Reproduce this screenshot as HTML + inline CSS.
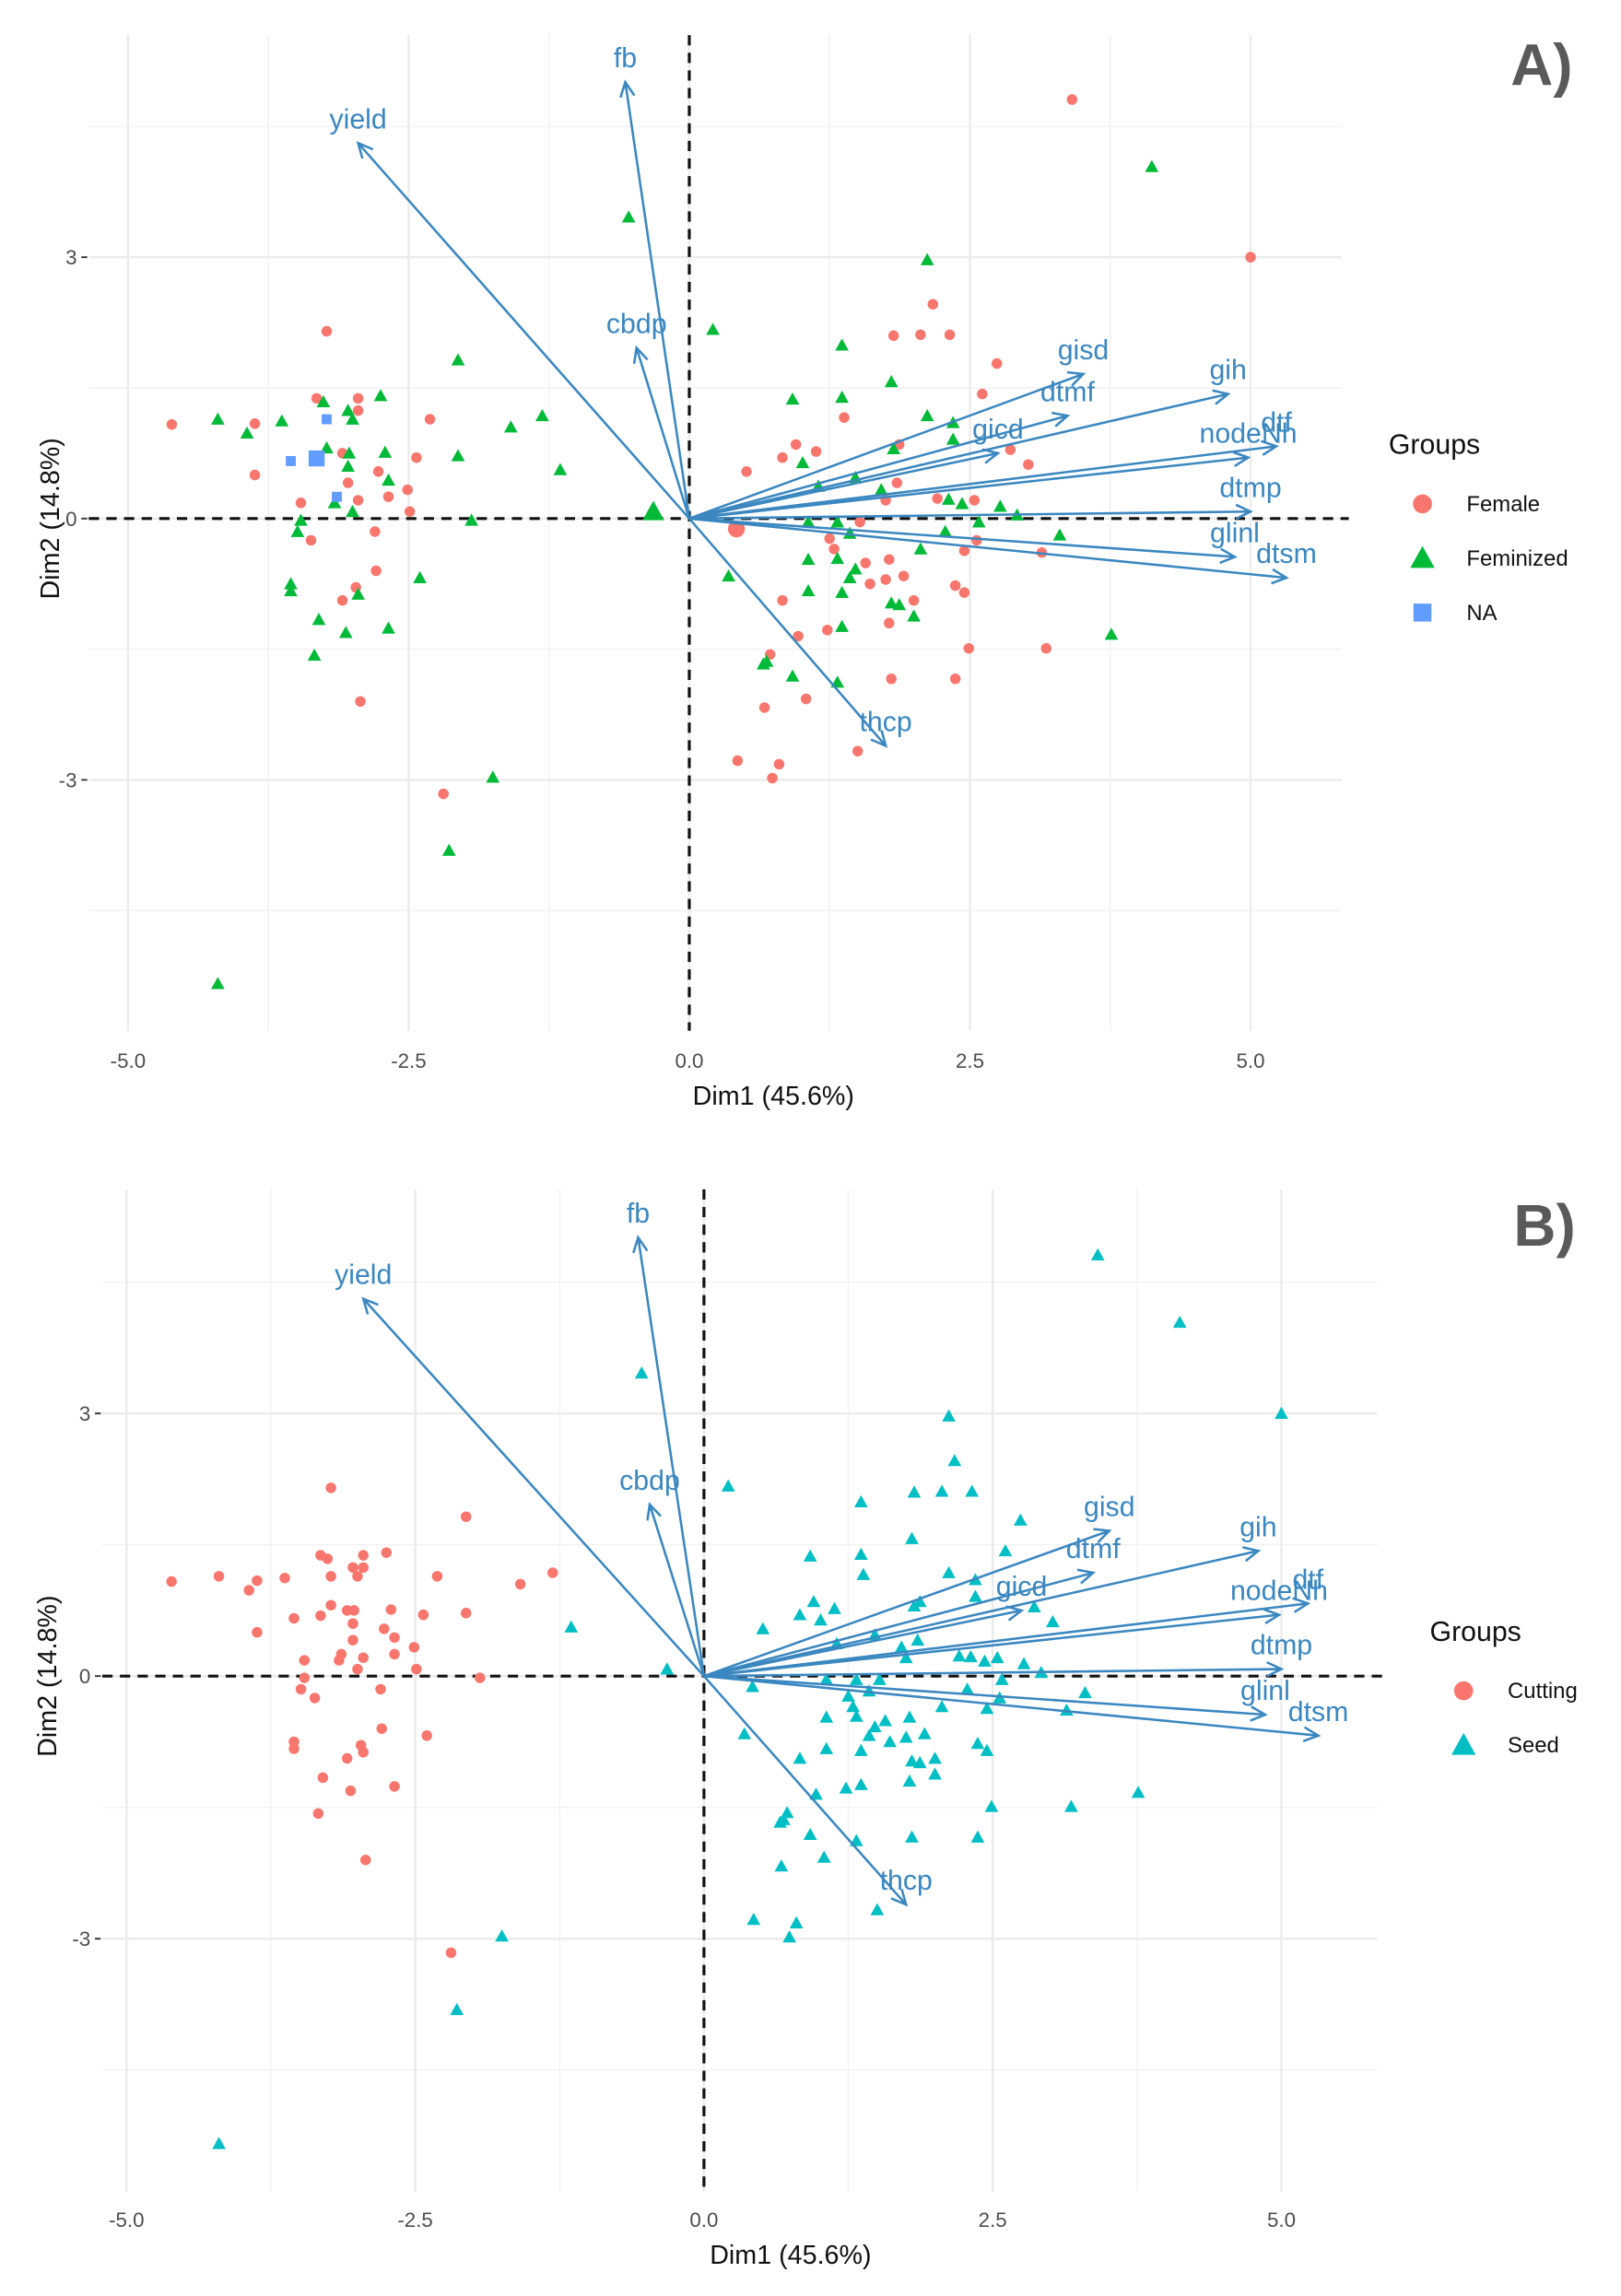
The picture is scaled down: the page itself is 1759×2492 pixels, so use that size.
<!DOCTYPE html>
<html><head><meta charset="utf-8"><style>
html,body{margin:0;padding:0;background:#fff}
svg{display:block;font-family:"Liberation Sans",Arial,sans-serif}
</style></head><body>
<svg id="chart" width="1759" height="2492" viewBox="0 0 1103 1563" xmlns="http://www.w3.org/2000/svg"></svg>
<script>
// ---- data ----
const pointX = [-4.61,-3.87,-3.87,-3.23,-3.32,-2.95,-2.95,-2.31,-3.09,-3.04,-2.77,-2.68,-2.95,-3.46,-3.37,-2.51,-2.49,-2.43,-2.80,-2.79,-2.97,-3.09,-2.93,-2.19,
3.41,5.0,2.17,1.82,2.06,2.32,2.74,2.61,1.38,0.95,1.13,0.83,0.51,1.87,2.86,3.02,0.42,2.21,2.54,1.85,1.75,1.52,1.25,1.29,1.57,1.78,1.91,1.61,1.75,2.00,1.78,2.45,2.56,3.14,2.37,2.45,0.83,1.23,0.97,0.72,2.49,3.18,1.80,2.37,1.04,0.67,1.50,0.43,0.80,0.74,
-4.20,-3.94,-3.63,-3.26,-3.00,-3.04,-2.75,-2.71,-3.03,-3.04,-2.68,-3.23,-3.16,-3.00,-3.46,-3.49,-3.55,-3.55,-2.95,-3.30,-3.06,-2.68,-3.34,-2.40,-2.06,-2.06,-1.59,-1.31,-1.15,-1.94,-0.54,-0.32,0.21,0.92,1.01,1.36,1.36,1.80,2.12,2.12,2.35,2.35,1.82,1.48,1.15,1.71,2.31,2.43,2.77,2.92,1.06,1.32,2.58,2.28,2.06,1.43,3.30,1.06,1.32,1.48,1.43,1.36,1.06,1.80,1.87,2.00,1.36,0.35,0.69,0.66,0.92,1.32,3.76,4.12,-1.75,-2.14,-4.20,
-3.23,-3.55,-3.32,-3.14];
const pointY = [1.08,1.09,0.50,2.15,1.38,1.38,1.24,1.14,0.75,0.41,0.54,0.25,0.21,0.18,-0.25,0.33,0.08,0.70,-0.15,-0.60,-0.79,-0.94,-2.10,-3.16,
4.81,3.0,2.46,2.10,2.11,2.11,1.78,1.43,1.16,0.85,0.77,0.70,0.54,0.85,0.79,0.62,-0.12,0.23,0.21,0.41,0.21,-0.04,-0.23,-0.35,-0.51,-0.47,-0.66,-0.75,-0.70,-0.94,-1.20,-0.37,-0.25,-0.39,-0.77,-0.85,-0.94,-1.28,-1.35,-1.56,-1.49,-1.49,-1.84,-1.84,-2.07,-2.17,-2.67,-2.78,-2.82,-2.98,
1.14,0.98,1.12,1.34,1.14,1.24,1.41,0.76,0.75,0.60,0.44,0.81,0.18,0.08,-0.02,-0.15,-0.75,-0.83,-0.87,-1.16,-1.31,-1.26,-1.57,-0.68,1.82,0.72,1.05,1.18,0.56,-0.02,3.46,0.08,2.17,1.37,0.64,1.99,1.39,1.57,2.97,1.18,1.10,0.91,0.80,0.47,0.37,0.33,0.22,0.17,0.14,0.04,-0.04,-0.04,-0.04,-0.15,-0.35,-0.17,-0.19,-0.47,-0.46,-0.58,-0.68,-0.85,-0.83,-0.97,-0.99,-1.12,-1.24,-0.66,-1.64,-1.67,-1.81,-1.88,-1.33,4.04,-2.97,-3.81,-5.34,
1.14,0.66,0.69,0.25];
const groupsA = ["Female","Feminized","NA"];
const groupsB = ["Cutting","Seed"];
const groupA = [].concat(Array(74).fill(0), Array(77).fill(1), Array(4).fill(2));
const groupB = pointX.map((x,i)=> ((x < -1.25 && pointY[i] > -2.5) || (groupA[i]===0 && x < -1.25)) ? 0 : 1);
const varNames = ["fb","yield","cbdp","gisd","dtmf","gicd","gih","dtf","nodeNh","dtmp","glinl","dtsm","thcp"];
const varX = [-0.57,-2.95,-0.47,3.51,3.37,2.75,4.80,5.23,4.98,5.00,4.86,5.32,1.75];
const varY = [5.01,4.31,1.96,1.66,1.18,0.75,1.43,0.83,0.70,0.08,-0.44,-0.68,-2.61];
const xTicks = [-5.0,-2.5,0.0,2.5,5.0];
const xTickLabels = ["-5.0","-2.5","0.0","2.5","5.0"];
const yTicks = [-3,0,3];
const yTickLabels = ["-3","0","3"];

const NS="http://www.w3.org/2000/svg";
const svg=document.getElementById('chart');
function mk(tag,attrs,parent){const e=document.createElementNS(NS,tag);for(const k in attrs)e.setAttribute(k,attrs[k]);(parent||svg).appendChild(e);return e;}

const panels=[
 {id:'a',x0:469,ux:76.4,y0:353,uy:59.3,xmin:-5.35,xmax:5.81,ymin:-5.88,ymax:5.55,groups:groupsA,gidx:groupA,
  colors:["#F8766D","#00BA38","#619CFF"],shapes:["circle","triangle","square"],label:"A)",labX:1028,labY:58,
  legX:945,legY:309,xTitleY:752,tickY:727,yTitleX:40},
 {id:'b',x0:479,ux:78.6,y0:1141,uy:59.6,xmin:-5.21,xmax:5.83,ymin:-5.89,ymax:5.56,groups:groupsB,gidx:groupB,
  colors:["#F8766D","#00BFC4"],shapes:["circle","triangle"],label:"B)",labX:1030,labY:848,
  legX:973,legY:1117,xTitleY:1541,tickY:1516,yTitleX:38}
];

function drawShape(shape,cx,cy,col,g,s){
  s=s||1;let e;
  if(shape==='circle') e=mk('circle',{cx:cx,cy:cy,r:3.6*s,fill:col},g);
  else if(shape==='triangle'){const h=4.6*s;e=mk('polygon',{points:`${cx},${cy-h} ${cx-h},${cy+h*0.8} ${cx+h},${cy+h*0.8}`,fill:col},g);}
  else e=mk('rect',{x:cx-3.4*s,y:cy-3.4*s,width:6.8*s,height:6.8*s,fill:col},g);
  return e;
}

panels.forEach(p=>{
  const X=v=>p.x0+v*p.ux, Y=v=>p.y0-v*p.uy;
  const g=mk('g',{});
  
  
  const L=X(p.xmin),R=X(p.xmax),T=Y(p.ymax),B=Y(p.ymin);
  [-3.75,-1.25,1.25,3.75].forEach(v=>{const l=mk('line',{x1:X(v),x2:X(v),y1:T,y2:B,stroke:'#f2f2f2','stroke-width':0.9},g);});
  [-4.5,-1.5,1.5,4.5].forEach(v=>{const l=mk('line',{x1:L,x2:R,y1:Y(v),y2:Y(v),stroke:'#f2f2f2','stroke-width':0.9},g);});
  xTicks.forEach((v,i)=>{
    const l=mk('line',{x1:X(v),x2:X(v),y1:T,y2:B,stroke:'#ebebeb','stroke-width':1.5},g);
    
    const t=mk('text',{x:X(v),y:p.tickY,'text-anchor':'middle','font-size':14,fill:'#4d4d4d'},g);
    t.textContent=xTickLabels[i];
    
  });
  yTicks.forEach((v,i)=>{
    const l=mk('line',{x1:L,x2:R,y1:Y(v),y2:Y(v),stroke:'#ebebeb','stroke-width':1.5},g);
    
    const tk=mk('line',{x1:L-5,x2:L-1,y1:Y(v),y2:Y(v),stroke:'#333','stroke-width':1.2},g);
    
    const t=mk('text',{x:L-8,y:Y(v)+5,'text-anchor':'end','font-size':14,fill:'#4d4d4d'},g);
    t.textContent=yTickLabels[i];
    
  });
  const zx=mk('line',{x1:X(0),x2:X(0),y1:T,y2:B,stroke:'#111','stroke-width':2,'stroke-dasharray':'7,5'},g);
  
  const zy=mk('line',{x1:L,x2:R+5,y1:Y(0),y2:Y(0),stroke:'#111','stroke-width':2,'stroke-dasharray':'7,5'},g);
  
  pointX.forEach((x,i)=>{
    const gi=p.gidx[i];
    const big=(p.id==='a'&&((gi===2&&i===pointX.length-2)||(Math.abs(x+0.32)<0.01)||(Math.abs(x-0.42)<0.01)));
    const e=drawShape(p.shapes[gi],X(x),Y(pointY[i]),p.colors[gi],g,big?1.6:1);
    
    
  });
  varNames.forEach((n,i)=>{
    const tx=X(varX[i]),ty=Y(varY[i]),ox=X(0),oy=Y(0);
    const l=mk('line',{x1:ox,y1:oy,x2:tx,y2:ty,stroke:'#3b87c0','stroke-width':1.6},g);
    
    const ang=Math.atan2(ty-oy,tx-ox),a=0.45,len=11;
    const hp=mk('polyline',{points:`${tx-len*Math.cos(ang-a)},${ty-len*Math.sin(ang-a)} ${tx},${ty} ${tx-len*Math.cos(ang+a)},${ty-len*Math.sin(ang+a)}`,fill:'none',stroke:'#3b87c0','stroke-width':1.6},g);
    
    const t=mk('text',{x:tx,y:ty-10,'text-anchor':'middle','font-size':19,fill:'#3b87c0'},g);
    t.textContent=n;
    
  });
  const xt=mk('text',{x:X(0.75),y:p.xTitleY,'text-anchor':'middle','font-size':18,fill:'#111'},g);
  xt.textContent='Dim1 (45.6%)';
  const yt=mk('text',{x:0,y:0,'text-anchor':'middle','font-size':18,fill:'#111',transform:`translate(${p.yTitleX},${Y(0)}) rotate(-90)`},g);
  yt.textContent='Dim2 (14.8%)';
  const lg=mk('g',{},g);
  
  const lt=mk('text',{x:p.legX,y:p.legY,'font-size':19,fill:'#111'},lg);
  lt.textContent='Groups';
  p.groups.forEach((gname,k)=>{
    const cy=p.legY+34+k*37;
    const s=drawShape(p.shapes[k],p.legX+23,cy,p.colors[k],lg,1.8);
    
    const tt=mk('text',{x:p.legX+53,y:cy+5,'font-size':15,fill:'#111'},lg);
    tt.textContent=gname;
  });
  const pl=mk('text',{x:p.labX,y:p.labY,'font-size':40,'font-weight':'bold',fill:'#5a5a5a'},g);
  pl.textContent=p.label;
});
</script>
</body></html>
